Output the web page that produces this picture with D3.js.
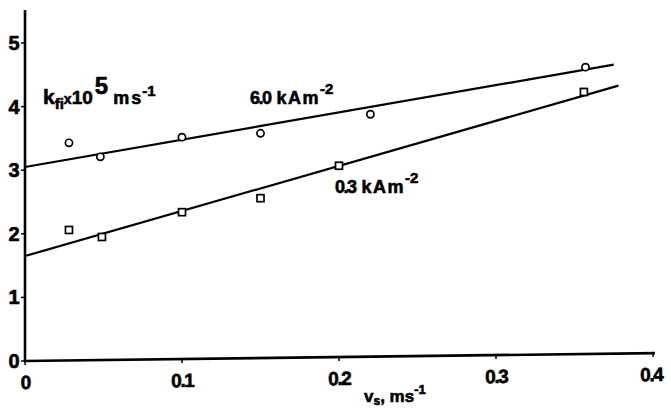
<!DOCTYPE html>
<html>
<head>
<meta charset="utf-8">
<script src="https://cdn.jsdelivr.net/npm/d3@7"></script>
<style>
  html, body { margin: 0; padding: 0; background: #fff; }
  svg { display: block; }
  text { font-family: "Liberation Sans", Arial, sans-serif; font-weight: bold; fill: #000;
         stroke: #000; stroke-width: 0.6px; }
</style>
</head>
<body>
<svg id="chart" width="671" height="411"></svg>
<script>
// Measured points: velocity v_s (m/s) and mass transfer coefficient k_fi (x10^5 m/s)
const velocity6   = [0.028, 0.048, 0.100, 0.150, 0.220, 0.357];
const kfi6        = [3.43, 3.21, 3.52, 3.58, 3.88, 4.62];
const velocity03  = [0.028, 0.049, 0.100, 0.150, 0.200, 0.356];
const kfi03       = [2.06, 1.95, 2.34, 2.56, 3.07, 4.23];

// Fitted straight lines: [v at start, k at start], [v at end, k at end]
const fit6  = [[0, 3.05], [0.375, 4.66]];
const fit03 = [[0, 1.65], [0.378, 4.33]];

const xTicks = [0, 0.1, 0.2, 0.3, 0.4];
const xTickLabels = ["0", "0.1", "0.2", "0.3", "0.4"];
const yTicks = [0, 1, 2, 3, 4, 5];

const svg = d3.select("#chart");
const x0 = 25, y0 = 361;
const x = d3.scaleLinear().domain([0, 0.4]).range([x0, x0 + 628]);
const y = d3.scaleLinear().domain([0, 5]).range([y0, y0 - 318]);

// Fitted lines
const line = d3.line().x(d => x(d[0])).y(d => y(d[1]));
[fit6, fit03].forEach(f => {
  svg.append("path").attr("d", line(f))
    .attr("fill", "none").attr("stroke", "#000").attr("stroke-width", 2.2);
});

// Circles for 6.0 kA m^-2
svg.selectAll("circle.p6").data(d3.zip(velocity6, kfi6)).join("circle")
  .attr("class", "p6")
  .attr("cx", d => x(d[0])).attr("cy", d => y(d[1])).attr("r", 3.6)
  .attr("fill", "#fff").attr("stroke", "#000").attr("stroke-width", 1.7);

// Squares for 0.3 kA m^-2
svg.selectAll("rect.p03").data(d3.zip(velocity03, kfi03)).join("rect")
  .attr("class", "p03")
  .attr("x", d => x(d[0]) - 3.5).attr("y", d => y(d[1]) - 3.5)
  .attr("width", 7).attr("height", 7)
  .attr("fill", "#fff").attr("stroke", "#000").attr("stroke-width", 1.7);

// Y axis
const yAxis = svg.append("g");
yAxis.append("line").attr("x1", x0).attr("x2", x0).attr("y1", 10).attr("y2", y0 + 1)
  .attr("stroke", "#000").attr("stroke-width", 2.6);
yAxis.selectAll("line.tick").data(yTicks).join("line").attr("class", "tick")
  .attr("x1", x0 - 4).attr("x2", x0).attr("y1", d => y(d)).attr("y2", d => y(d))
  .attr("stroke", "#000").attr("stroke-width", 1.5);
yAxis.selectAll("text").data(yTicks).join("text")
  .attr("x", 14).attr("y", d => y(d) + 7)
  .attr("text-anchor", "middle").attr("font-size", 20)
  .text(d => d);

// X axis (slightly skewed, as printed)
const xAxis = svg.append("g").attr("transform", `rotate(-0.72, ${x0}, ${y0})`);
xAxis.append("line").attr("x1", x0 - 1).attr("x2", x(0.4) + 2).attr("y1", y0).attr("y2", y0)
  .attr("stroke", "#000").attr("stroke-width", 2.6);
xAxis.selectAll("line.tick").data(xTicks).join("line").attr("class", "tick")
  .attr("x1", d => x(d)).attr("x2", d => x(d)).attr("y1", y0).attr("y2", y0 + 4)
  .attr("stroke", "#000").attr("stroke-width", 1.5);
xAxis.selectAll("text").data(xTicks).join("text")
  .attr("x", d => x(d) + (d === 0.4 ? -2 : 0)).attr("y", y0 + 28)
  .attr("text-anchor", "middle").attr("font-size", 19).attr("letter-spacing", -1.5)
  .text((d, i) => xTickLabels[i]);

// X axis title: v_s, ms^-1
const xt = svg.append("text").attr("x", 364).attr("y", 402).attr("font-size", 17);
xt.append("tspan").text("v");
xt.append("tspan").attr("font-size", 12).attr("dy", 3).text("s");
xt.append("tspan").attr("dy", -3).text(", ms");
xt.append("tspan").attr("font-size", 13).attr("dy", -8).text("-1");

// Y axis title: k_fi x 10^5 ms^-1
const yt = svg.append("text").attr("x", 43).attr("y", 104).attr("font-size", 21);
yt.append("tspan").text("k");
yt.append("tspan").attr("font-size", 15).attr("dy", 5).text("fi");
yt.append("tspan").attr("font-size", 14).attr("dy", -5).text("x");
yt.append("tspan").attr("font-size", 19).text("10");
yt.append("tspan").attr("font-size", 24).attr("dy", -10).attr("dx", 2).text("5");
yt.append("tspan").attr("font-size", 18).attr("dy", 10).attr("dx", 5).attr("letter-spacing", 2).text("ms");
yt.append("tspan").attr("font-size", 15).attr("dy", -8).attr("dx", -1).text("-1");

// Series labels
function seriesLabel(px, py, value) {
  const t = svg.append("text").attr("x", px).attr("y", py).attr("font-size", 18);
  t.append("tspan").attr("letter-spacing", -1.5).text(value);
  t.append("tspan").attr("dx", 6).attr("letter-spacing", 1.5).text("kAm");
  t.append("tspan").attr("font-size", 15).attr("dy", -10).text("-2");
}
seriesLabel(250, 104, "6.0");
seriesLabel(335, 193, "0.3");
</script>
</body>
</html>
